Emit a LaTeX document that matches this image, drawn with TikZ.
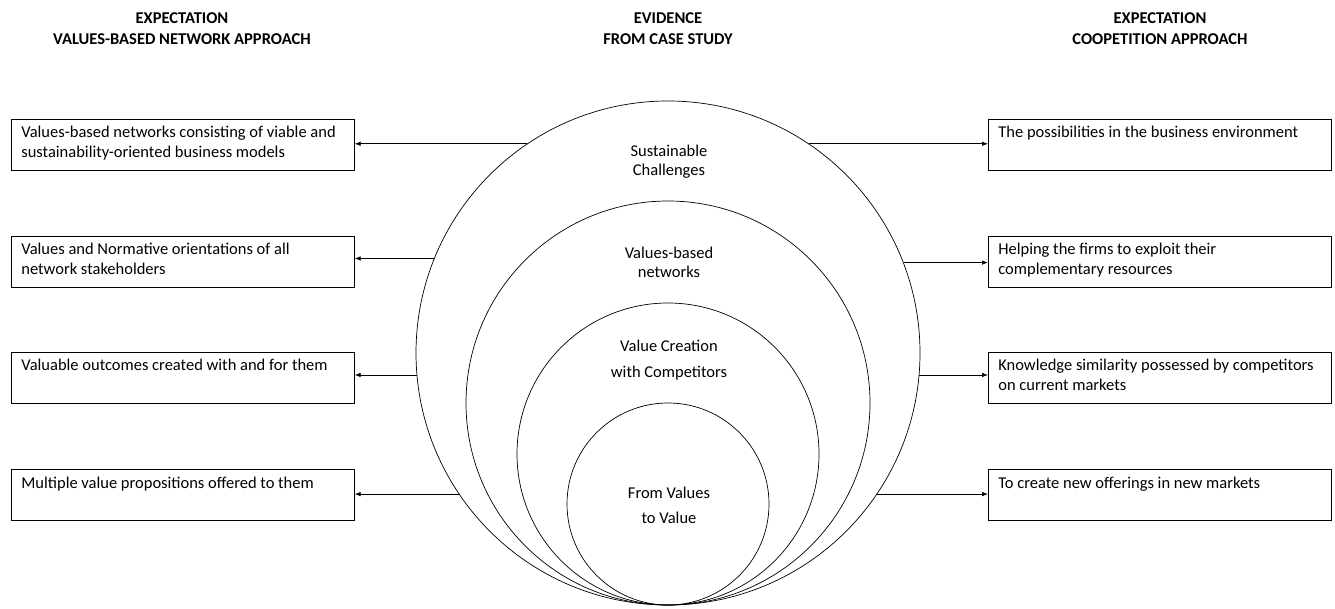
\documentclass[tikz,border=0pt]{standalone}
\usepackage{fontspec}
\setmainfont{Carlito}
\usetikzlibrary{arrows.meta}
\tikzset{
  textbox/.style={draw, anchor=west, text width=323pt, align=flush left,
    inner xsep=10pt, inner ysep=5pt, text height=14pt, text depth=27pt,
    font=\fontsize{16.5}{20}\selectfont},
  ring/.style={draw, circle, inner sep=0pt},
  head/.style={align=center, font=\bfseries\fontsize{16.5}{21}\selectfont},
  ringlabel/.style={align=center, font=\fontsize{16.5}{19}\selectfont},
}
\begin{document}
\begin{tikzpicture}[x=1pt,y=1pt,>={Latex[length=6pt,width=4.5pt]},line width=0.7pt]
    \useasboundingbox (0,0) rectangle (1335,608);
    % column headings
    \node[head] (hl) at (182,579) {EXPECTATION\\VALUES-BASED NETWORK APPROACH};
    \node[head] (hm) at (668,579) {EVIDENCE\\FROM CASE STUDY};
    \node[head] (hr) at (1160,579) {EXPECTATION\\COOPETITION APPROACH};
    % nested circles, all touching at the bottom
    \node[ring, minimum size=504pt] (c1) at (668,255) {};
    \node[ring, minimum size=404pt] (c2) at (668,205) {};
    \node[ring, minimum size=302pt] (c3) at (668,154) {};
    \node[ring, minimum size=202pt] (c4) at (668,104) {};
    \node[ringlabel] (t1) at (669,446) {Sustainable\\Challenges};
    \node[ringlabel] (t2) at (669,346) {Values-based\\networks};
    \node[ringlabel, font=\fontsize{16.5}{26}\selectfont] (t3) at (669,248) {Value Creation\\with Competitors};
    \node[ringlabel, font=\fontsize{16.5}{25}\selectfont] (t4) at (669,103) {From Values\\to Value};
    % left column
    \foreach \i/\y/\txt in {
      1/463.5/{Values-based networks consisting of viable and sustainability-oriented business models},
      2/346.5/{Values and Normative orientations of all network stakeholders},
      3/230.5/{Valuable outcomes created with and for them},
      4/113.5/{Multiple value propositions offered to them}}
      \node[textbox] (l\i) at (11,\y) {\txt};
    % right column
    \foreach \i/\y/\txt in {
      1/463.5/{The possibilities in the business environment},
      2/346.5/{Helping the firms to exploit their complementary resources},
      3/230.5/{Knowledge similarity possessed by competitors on current markets},
      4/113.5/{To create new offerings in new markets}}
      \node[textbox] (r\i) at (988,\y) {\txt};
    % arrows out of the outer circle
    \foreach \i/\la/\ra in {1/124/56,2/158.8/21.2,3/185.7/-5.7,4/214/-34}{
      \draw[->] (c1.\la) -- (c1.\la -| l\i.east);
      \draw[->] (c1.\ra) -- (c1.\ra -| r\i.west);
    }
\end{tikzpicture}
\end{document}
